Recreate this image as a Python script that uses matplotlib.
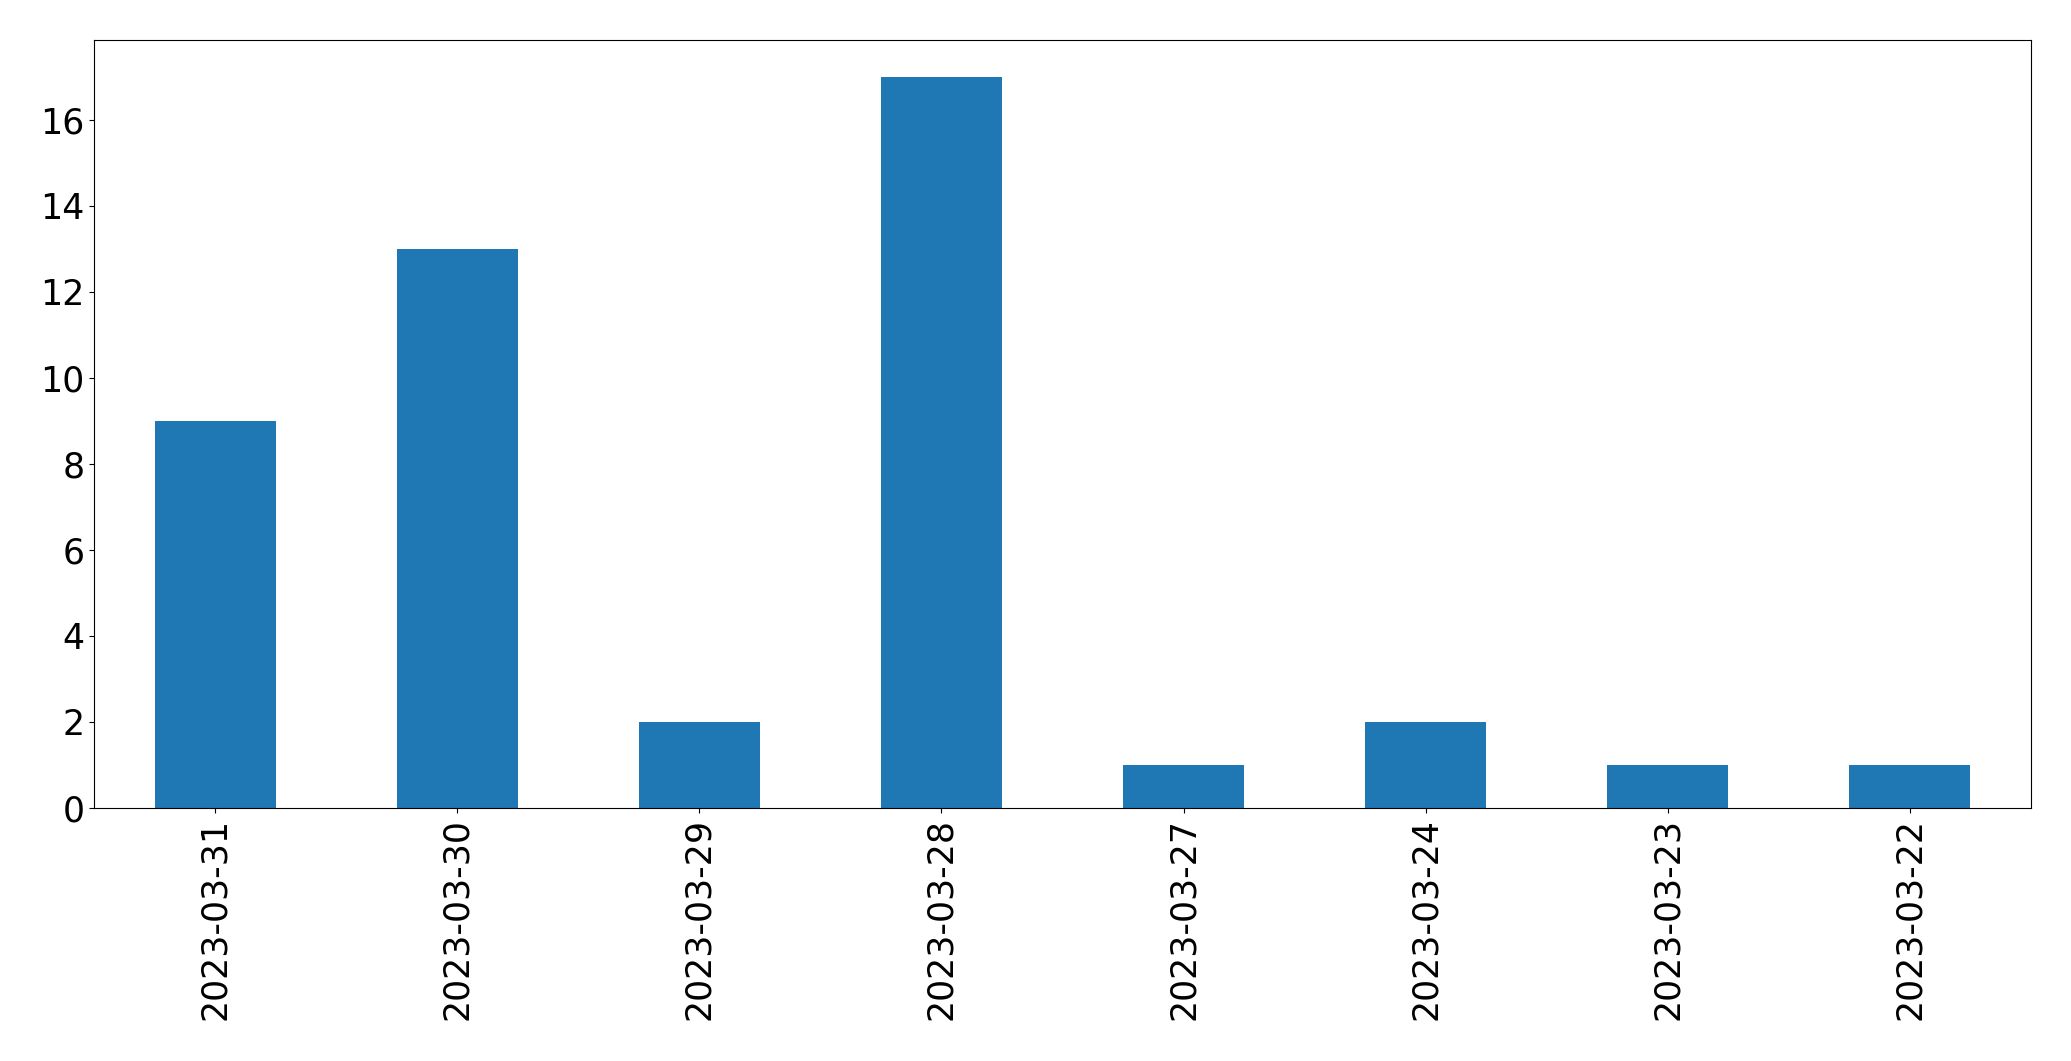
import matplotlib
matplotlib.use("Agg")
import matplotlib.pyplot as plt

dates = ["2023-03-31", "2023-03-30", "2023-03-29", "2023-03-28",
         "2023-03-27", "2023-03-24", "2023-03-23", "2023-03-22"]
counts = [9, 13, 2, 17, 1, 2, 1, 1]

fig = plt.figure(figsize=(20.71, 10.61), dpi=100)
ax = fig.add_axes([0.0454, 0.2385, 0.9353, 0.7238])
x = list(range(len(dates)))
ax.bar(x, counts, width=0.5, color="#1f77b4")
ax.set_xlim(-0.5, len(dates) - 0.5)
ax.set_xticks(x)
ax.set_xticklabels(dates, rotation=90)
ax.tick_params(labelsize=25)
fig.savefig("out.png", dpi=100)
